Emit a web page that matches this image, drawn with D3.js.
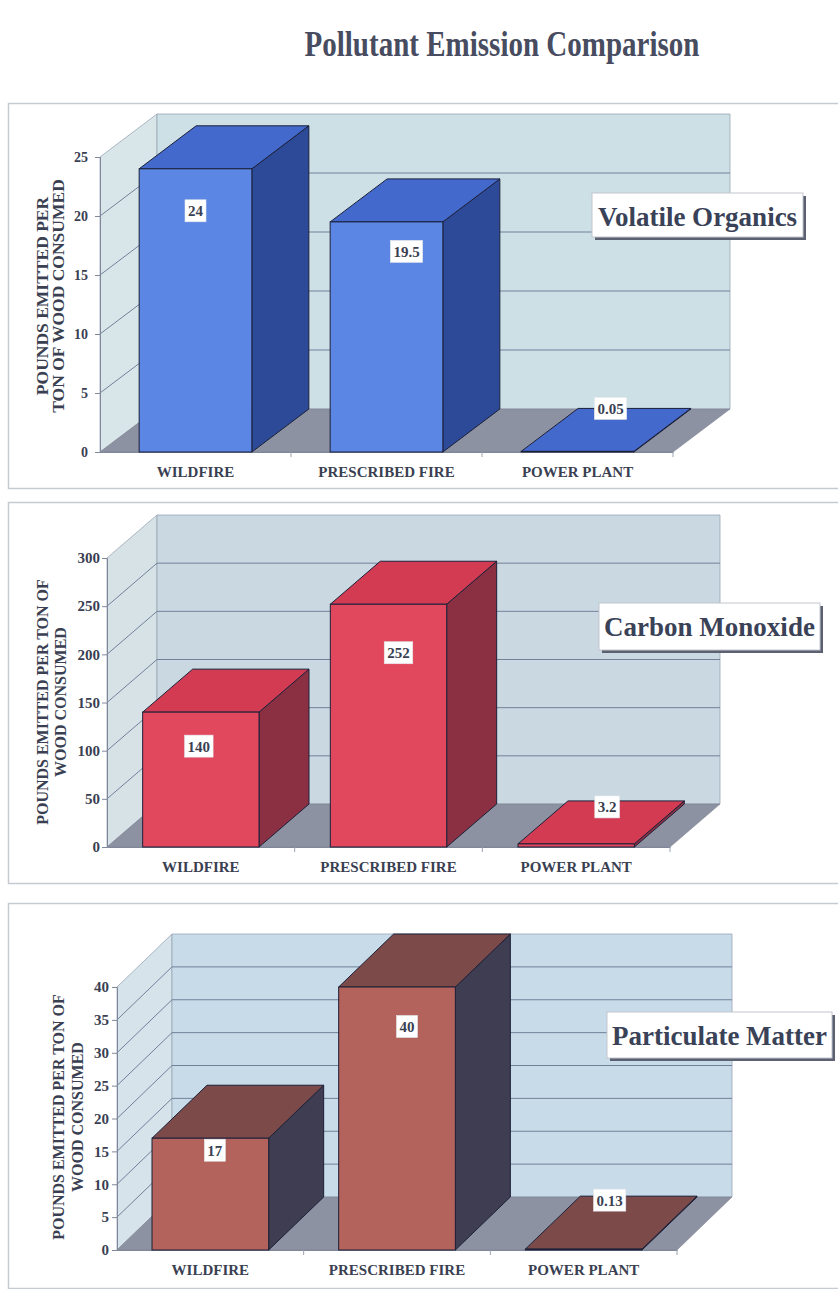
<!DOCTYPE html>
<html>
<head>
<meta charset="utf-8">
<script src="https://cdn.jsdelivr.net/npm/d3@7"></script>
<style>
  html, body { margin: 0; padding: 0; background: #ffffff; }
  svg { display: block; font-family: "Liberation Serif", "Times New Roman", serif; font-weight: bold; }
</style>
</head>
<body>
<svg id="chart" width="838" height="1289"></svg>
<script>
// Emission data, pounds emitted per ton of wood consumed
const categories = ["WILDFIRE", "PRESCRIBED FIRE", "POWER PLANT"];
const volatileOrganics = [24, 19.5, 0.05];
const carbonMonoxide = [140, 252, 3.2];
const particulateMatter = [17, 40, 0.13];

const volatileTicks = [0, 5, 10, 15, 20, 25];
const carbonTicks = [0, 50, 100, 150, 200, 250, 300];
const particulateTicks = [0, 5, 10, 15, 20, 25, 30, 35, 40];

const chartTitle = "Pollutant Emission Comparison";

// Layout and styling of each of the three stacked 3-D column charts
const panels = [
  {
    name: "Volatile Organics", values: volatileOrganics, ticks: volatileTicks,
    axisTitle: ["POUNDS EMITTED PER", "TON OF WOOD CONSUMED"], axisTitleSize: 17.5, axisTitleX: [42, 58], axisTitleY: 296,
    frame: { top: 103, bottom: 488 }, plot: { x0: 100, x1: 673, y0: 452, yTop: 157 }, depth: { dx: 57, dy: 43 },
    barFrac: 0.59, tickFont: 14, tickPad: 7, catBaseline: 477,
    wall: "#cde0e6", side: "#d9e6e9",
    bar: { front: "#5b86e3", top: "#4469cd", side: "#2c4a97" },
    labelOffsets: [[0, 42], [20, 29.5], [33, -43]],
    legend: { x: 592, y: 193, w: 211, h: 44, baseline: 226 }
  },
  {
    name: "Carbon Monoxide", values: carbonMonoxide, ticks: carbonTicks,
    axisTitle: ["POUNDS EMITTED PER TON OF", "WOOD CONSUMED"], axisTitleSize: 16, axisTitleX: [42, 60], axisTitleY: 702,
    frame: { top: 502, bottom: 883 }, plot: { x0: 107, x1: 670, y0: 847, yTop: 558 }, depth: { dx: 50, dy: 43 },
    barFrac: 0.62, tickFont: 15, tickPad: 2, catBaseline: 872,
    wall: "#c9d8e1", side: "#d7e2e7",
    bar: { front: "#e2485d", top: "#d23b52", side: "#8b3043" },
    labelOffsets: [[-2, 34], [10, 48.5], [31, -37]],
    legend: { x: 599, y: 603, w: 221, h: 47, baseline: 636 }
  },
  {
    name: "Particulate Matter", values: particulateMatter, ticks: particulateTicks,
    axisTitle: ["POUNDS EMITTED PER TON OF", "WOOD CONSUMED"], axisTitleSize: 16, axisTitleX: [58, 77], axisTitleY: 1117,
    frame: { top: 903, bottom: 1288 }, plot: { x0: 117, x1: 677, y0: 1250, yTop: 987 }, depth: { dx: 55, dy: 53 },
    barFrac: 0.625, tickFont: 15, tickPad: 3, catBaseline: 1275,
    wall: "#c8dbe8", side: "#d6e3ea",
    bar: { front: "#b3635b", top: "#7b4a49", side: "#3e3d51" },
    labelOffsets: [[4.5, 12], [10, 39.5], [26, -49]],
    legend: { x: 607, y: 1012, w: 225, h: 46, baseline: 1045 }
  }
];

const textColor = "#3a3f52";
const gridColor = "#72819a";
const edgeColor = "#1c2039";
const floorColor = "#8d92a2";

const svg = d3.select("#chart");

svg.append("text")
  .attr("x", 502).attr("y", 56)
  .attr("text-anchor", "middle")
  .attr("font-size", 36)
  .attr("textLength", 395)
  .attr("lengthAdjust", "spacingAndGlyphs")
  .attr("fill", "#484c60")
  .text(chartTitle);

const poly = pts => pts.map(q => q[0].toFixed(2) + "," + q[1].toFixed(2)).join(" ");

function drawPanel(p) {
  const g = svg.append("g");
  const { x0, x1, y0, yTop } = p.plot;
  const { dx, dy } = p.depth;
  const vmax = d3.max(p.ticks);

  // panel frame
  g.append("rect")
    .attr("x", 8.5).attr("y", p.frame.top + 0.5)
    .attr("width", 845).attr("height", p.frame.bottom - p.frame.top)
    .attr("fill", "#ffffff").attr("stroke", "#c6cad3").attr("stroke-width", 1.5);

  const x = d3.scaleBand().domain(categories).range([x0, x1]).padding(0);
  const y = d3.scaleLinear().domain([0, vmax]).range([y0, yTop]);
  // projection of (screen x, screen y, depth 0..1) into the oblique view
  const pt = (px, py, z) => [px + dx * z, py - dy * z];

  // side wall
  g.append("polygon")
    .attr("points", poly([pt(x0, y(0), 0), pt(x0, y(vmax), 0), pt(x0, y(vmax), 1), pt(x0, y(0), 1)]))
    .attr("fill", p.side).attr("stroke", "#9aa6b6").attr("stroke-width", 0.8);

  // back wall
  g.append("polygon")
    .attr("points", poly([pt(x0, y(0), 1), pt(x0, y(vmax), 1), pt(x1, y(vmax), 1), pt(x1, y(0), 1)]))
    .attr("fill", p.wall).attr("stroke", "#9aa6b6").attr("stroke-width", 0.8);

  // gridlines across side wall and back wall
  const gridTicks = p.ticks.filter(t => t > 0 && t < vmax);
  g.append("g").selectAll("polyline").data(gridTicks).join("polyline")
    .attr("points", t => poly([pt(x0, y(t), 0), pt(x0, y(t), 1), pt(x1, y(t), 1)]))
    .attr("fill", "none").attr("stroke", gridColor).attr("stroke-width", 1);

  // floor
  g.append("polygon")
    .attr("points", poly([pt(x0, y0, 0), pt(x1, y0, 0), pt(x1, y0, 1), pt(x0, y0, 1)]))
    .attr("fill", floorColor).attr("stroke", "#7d8292").attr("stroke-width", 0.6);

  // value axis
  const yAxis = d3.axisLeft(y).tickValues(p.ticks).tickSize(5).tickPadding(p.tickPad)
    .tickFormat(d3.format("d"));
  const ya = g.append("g").attr("transform", `translate(${x0},0)`).call(yAxis);
  ya.select(".domain").attr("stroke", "#7f889a");
  ya.selectAll(".tick line").attr("stroke", "#7f889a");
  ya.selectAll(".tick text")
    .attr("font-size", p.tickFont).attr("font-family", "Liberation Serif, Times New Roman, serif")
    .attr("font-weight", "bold").attr("fill", textColor);

  // category axis
  const xAxis = d3.axisBottom(x).tickSize(0);
  const xa = g.append("g").attr("transform", `translate(0,${y0})`).call(xAxis);
  xa.select(".domain").attr("stroke", "#7f889a");
  xa.selectAll(".tick text")
    .attr("dy", null).attr("y", p.catBaseline - y0)
    .attr("font-size", 15).attr("font-family", "Liberation Serif, Times New Roman, serif")
    .attr("font-weight", "bold").attr("fill", textColor);
  // boundary tick marks between categories
  const bounds = categories.slice(1).map(c => x(c)).concat([x1]);
  xa.selectAll(".bound").data(bounds).join("line")
    .attr("x1", d => d).attr("x2", d => d).attr("y1", 0).attr("y2", 5)
    .attr("stroke", "#9aa2b0");

  // 3-D columns
  const bw = x.bandwidth() * p.barFrac;
  const bars = g.append("g");
  categories.forEach((c, i) => {
    const v = p.values[i];
    const bx = x(c) + (x.bandwidth() - bw) / 2;
    const bx2 = bx + bw;
    const by = y(v);
    bars.append("polygon")
      .attr("points", poly([pt(bx2, by, 0), pt(bx2, y0, 0), pt(bx2, y0, 1), pt(bx2, by, 1)]))
      .attr("fill", p.bar.side).attr("stroke", edgeColor).attr("stroke-width", 1).attr("stroke-linejoin", "round");
    bars.append("polygon")
      .attr("points", poly([pt(bx, by, 0), pt(bx2, by, 0), pt(bx2, by, 1), pt(bx, by, 1)]))
      .attr("fill", p.bar.top).attr("stroke", edgeColor).attr("stroke-width", 1).attr("stroke-linejoin", "round");
    bars.append("rect")
      .attr("x", bx).attr("y", by).attr("width", bw).attr("height", Math.max(y0 - by, 0.5))
      .attr("fill", p.bar.front).attr("stroke", edgeColor).attr("stroke-width", 1);

    // value label
    const off = p.labelOffsets[i];
    const lg = bars.append("g")
      .attr("transform", `translate(${x(c) + x.bandwidth() / 2 + off[0]},${by + off[1]})`);
    const bg = lg.append("rect").attr("fill", "#ffffff").attr("stroke", "#e4e6ea").attr("stroke-width", 0.6);
    const t = lg.append("text")
      .attr("text-anchor", "middle").attr("dy", "0.36em")
      .attr("font-size", 15).attr("fill", textColor)
      .text(String(v));
    const w = t.node().getComputedTextLength() + 6;
    bg.attr("x", -w / 2).attr("y", -11).attr("width", w).attr("height", 22);
  });

  // rotated value-axis title
  p.axisTitle.forEach((line, k) => {
    g.append("text")
      .attr("transform", `translate(${p.axisTitleX[k]},${p.axisTitleY}) rotate(-90)`)
      .attr("text-anchor", "middle").attr("dy", "0.35em")
      .attr("font-size", p.axisTitleSize).attr("fill", textColor)
      .text(line);
  });

  // series name box with drop shadow
  const L = p.legend;
  g.append("rect").attr("x", L.x + 3).attr("y", L.y + 3).attr("width", L.w).attr("height", L.h)
    .attr("fill", "#5c6172");
  g.append("rect").attr("x", L.x).attr("y", L.y).attr("width", L.w).attr("height", L.h)
    .attr("fill", "#ffffff").attr("stroke", "#c2c6ce").attr("stroke-width", 1);
  g.append("text")
    .attr("x", L.x + L.w / 2).attr("y", L.baseline)
    .attr("text-anchor", "middle").attr("font-size", 27).attr("fill", "#3a4258")
    .text(p.name);
}

panels.forEach(drawPanel);
</script>
</body>
</html>
